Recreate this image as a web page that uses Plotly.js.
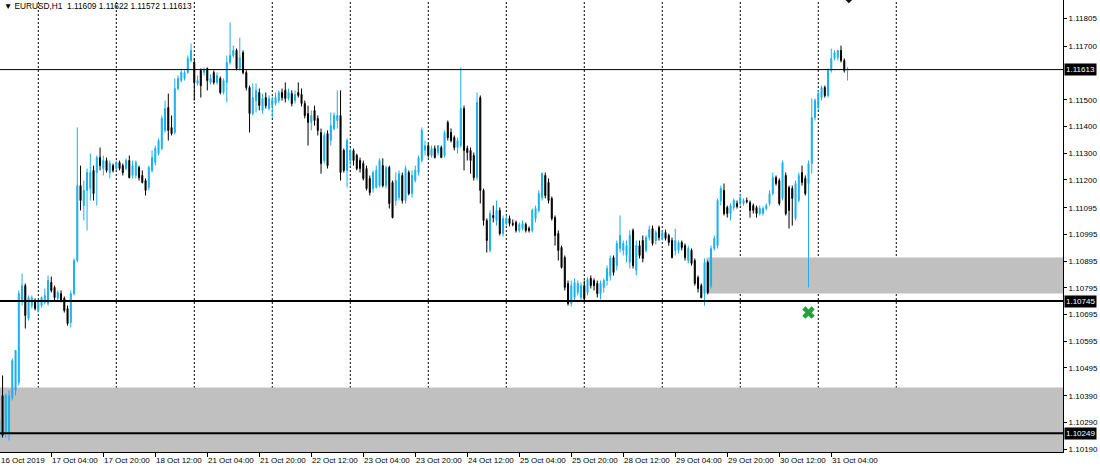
<!DOCTYPE html>
<html><head><meta charset="utf-8">
<script src="https://cdn.plot.ly/plotly-3.0.1.min.js"></script>
<style>html,body{margin:0;padding:0;background:#fff}#chart{width:1100px;height:467px}</style>
</head><body><div id="chart"></div>
<script>
// EURUSD H1 candles (index 0 = 16 Oct 2019 12:00)
const open = [
1.10233,1.10391,1.10248,1.10252,1.10383,1.10410,1.10440,1.10747,1.10803,1.10680,
1.10728,1.10747,1.10710,1.10728,1.10740,1.10736,1.10815,1.10796,1.10755,1.10773,
1.10755,1.10717,1.10665,1.10773,1.10897,1.11178,1.11103,1.11160,1.11167,1.11235,
1.11227,1.11283,1.11242,1.11272,1.11227,1.11253,1.11242,1.11265,1.11253,1.11242,
1.11272,1.11216,1.11216,1.11246,1.11216,1.11197,1.11171,1.11235,1.11265,1.11298,
1.11317,1.11385,1.11471,1.11396,1.11377,1.11542,1.11572,1.11580,1.11602,1.11647,
1.11640,1.11561,1.11610,1.11602,1.11617,1.11565,1.11602,1.11565,1.11580,1.11527,
1.11565,1.11640,1.11666,1.11685,1.11617,1.11677,1.11602,1.11546,1.11448,1.11497,
1.11527,1.11460,1.11508,1.11467,1.11478,1.11486,1.11497,1.11527,1.11535,1.11505,
1.11523,1.11497,1.11527,1.11520,1.11486,1.11448,1.11415,1.11460,1.11430,1.11377,
1.11272,1.11373,1.11347,1.11392,1.11422,1.11441,1.11310,1.11235,1.11272,1.11310,
1.11291,1.11272,1.11261,1.11242,1.11205,1.11167,1.11171,1.11178,1.11253,1.11178,
1.11246,1.11190,1.11122,1.11133,1.11216,1.11122,1.11227,1.11148,1.11197,1.11227,
1.11272,1.11310,1.11328,1.11291,1.11317,1.11302,1.11321,1.11291,1.11415,1.11377,
1.11358,1.11321,1.11328,1.11467,1.11317,1.11310,1.11291,1.11208,1.11508,1.11160,
1.11047,1.10935,1.11066,1.11047,1.11085,1.10998,1.11036,1.11055,1.11036,1.11040,
1.11010,1.11017,1.11032,1.11017,1.11010,1.11055,1.11085,1.11133,1.11216,1.11190,
1.11130,1.11058,1.10998,1.10946,1.10908,1.10811,1.10736,1.10758,1.10777,1.10758,
1.10803,1.10777,1.10830,1.10822,1.10811,1.10773,1.10796,1.10822,1.10841,1.10908,
1.10878,1.10942,1.10935,1.10916,1.10890,1.11010,1.10860,1.10953,1.10972,1.10935,
1.10983,1.11017,1.10972,1.11021,1.10980,1.11002,1.10991,1.10972,1.10935,1.10935,
1.10965,1.10953,1.10897,1.10935,1.10897,1.10833,1.10803,1.10773,1.10890,1.10803,
1.10942,1.10953,1.11122,1.11160,1.11096,1.11073,1.11096,1.11111,1.11111,1.11111,
1.11122,1.11115,1.11103,1.11096,1.11073,1.11073,1.11092,1.11111,1.11148,1.11208,
1.11197,1.11130,1.11216,1.11171,1.11167,1.11055,1.11122,1.11227,1.11205,1.11186,
1.11261,1.11433,1.11471,1.11508,1.11546,1.11516,1.11610,1.11655,1.11658,1.11685,
1.11647,1.11609];
const high = [
1.10316,1.10466,1.10398,1.10410,1.10530,1.10560,1.10785,1.10848,1.10811,1.10766,
1.10766,1.10755,1.10747,1.10762,1.10792,1.10841,1.10837,1.10803,1.10785,1.10785,
1.10762,1.10728,1.10785,1.10905,1.11396,1.11253,1.11197,1.11242,1.11298,1.11253,
1.11291,1.11321,1.11291,1.11283,1.11272,1.11261,1.11272,1.11272,1.11261,1.11280,
1.11291,1.11272,1.11272,1.11253,1.11235,1.11205,1.11253,1.11310,1.11328,1.11355,
1.11441,1.11497,1.11523,1.11441,1.11580,1.11591,1.11617,1.11610,1.11666,1.11711,
1.11655,1.11591,1.11617,1.11621,1.11621,1.11595,1.11610,1.11602,1.11587,1.11580,
1.11666,1.11790,1.11703,1.11692,1.11733,1.11685,1.11610,1.11553,1.11561,1.11561,
1.11542,1.11523,1.11527,1.11516,1.11512,1.11527,1.11535,1.11542,1.11565,1.11542,
1.11535,1.11535,1.11565,1.11542,1.11497,1.11478,1.11460,1.11478,1.11441,1.11392,
1.11377,1.11385,1.11452,1.11452,1.11535,1.11535,1.11317,1.11355,1.11317,1.11317,
1.11298,1.11283,1.11272,1.11253,1.11216,1.11235,1.11253,1.11280,1.11280,1.11253,
1.11253,1.11197,1.11227,1.11235,1.11227,1.11253,1.11235,1.11235,1.11253,1.11291,
1.11396,1.11347,1.11336,1.11328,1.11328,1.11328,1.11328,1.11385,1.11422,1.11392,
1.11366,1.11358,1.11621,1.11478,1.11328,1.11321,1.11302,1.11527,1.11516,1.11167,
1.11055,1.11085,1.11103,1.11122,1.11096,1.11066,1.11066,1.11066,1.11051,1.11047,
1.11040,1.11047,1.11040,1.11025,1.11092,1.11103,1.11160,1.11227,1.11227,1.11205,
1.11137,1.11066,1.11010,1.10953,1.10916,1.10822,1.10822,1.10830,1.10822,1.10815,
1.10822,1.10833,1.10841,1.10830,1.10822,1.10822,1.10830,1.10878,1.10916,1.10916,
1.10972,1.11066,1.10972,1.10972,1.11010,1.11017,1.10972,1.10972,1.10991,1.10991,
1.11028,1.11028,1.11010,1.11028,1.11010,1.11013,1.10998,1.10983,1.11017,1.10972,
1.10972,1.10961,1.10953,1.10942,1.10905,1.10841,1.10811,1.10905,1.10897,1.10953,
1.10991,1.11130,1.11178,1.11186,1.11103,1.11111,1.11130,1.11122,1.11148,1.11130,
1.11133,1.11122,1.11111,1.11103,1.11103,1.11100,1.11111,1.11160,1.11227,1.11216,
1.11205,1.11272,1.11227,1.11178,1.11178,1.11197,1.11227,1.11253,1.11216,1.11272,
1.11505,1.11505,1.11535,1.11553,1.11553,1.11617,1.11692,1.11685,1.11685,1.11703,
1.11655,1.11622];
const low = [
1.10222,1.10233,1.10233,1.10222,1.10372,1.10391,1.10428,1.10728,1.10642,1.10672,
1.10717,1.10710,1.10702,1.10721,1.10732,1.10728,1.10777,1.10747,1.10747,1.10740,
1.10702,1.10653,1.10646,1.10766,1.10890,1.11085,1.11047,1.11010,1.11122,1.11122,
1.11103,1.11235,1.11216,1.11227,1.11205,1.11227,1.11235,1.11235,1.11216,1.11235,
1.11205,1.11205,1.11205,1.11197,1.11186,1.11141,1.11160,1.11227,1.11253,1.11291,
1.11310,1.11377,1.11347,1.11366,1.11370,1.11535,1.11565,1.11572,1.11598,1.11640,
1.11497,1.11553,1.11508,1.11591,1.11535,1.11557,1.11557,1.11557,1.11520,1.11520,
1.11490,1.11632,1.11658,1.11610,1.11610,1.11595,1.11535,1.11377,1.11441,1.11452,
1.11460,1.11448,1.11467,1.11460,1.11433,1.11478,1.11486,1.11497,1.11490,1.11497,
1.11475,1.11486,1.11508,1.11475,1.11430,1.11328,1.11385,1.11403,1.11366,1.11223,
1.11261,1.11242,1.11328,1.11385,1.11392,1.11197,1.11227,1.11171,1.11253,1.11253,
1.11235,1.11227,1.11197,1.11160,1.11141,1.11152,1.11167,1.11171,1.11171,1.11167,
1.11092,1.11055,1.11103,1.11122,1.11111,1.11111,1.11141,1.11133,1.11190,1.11216,
1.11265,1.11291,1.11283,1.11283,1.11280,1.11291,1.11283,1.11283,1.11347,1.11340,
1.11310,1.11298,1.11321,1.11235,1.11272,1.11223,1.11197,1.11197,1.11111,1.11028,
1.10927,1.10927,1.11040,1.11028,1.10991,1.10987,1.11028,1.11025,1.11025,1.11002,
1.11002,1.11010,1.11002,1.11002,1.11002,1.11040,1.11077,1.11122,1.11130,1.11111,
1.11047,1.10953,1.10897,1.10867,1.10785,1.10728,1.10725,1.10747,1.10766,1.10747,
1.10747,1.10766,1.10792,1.10785,1.10758,1.10751,1.10777,1.10803,1.10822,1.10841,
1.10860,1.10927,1.10916,1.10890,1.10867,1.10867,1.10841,1.10905,1.10890,1.10927,
1.10972,1.10953,1.10957,1.10972,1.10972,1.10972,1.10953,1.10905,1.10916,1.10923,
1.10935,1.10897,1.10886,1.10878,1.10803,1.10777,1.10755,1.10728,1.10770,1.10792,
1.10935,1.10942,1.11103,1.11066,1.11058,1.11047,1.11085,1.11092,1.11103,1.11103,
1.11111,1.11058,1.11073,1.11058,1.11066,1.11066,1.11085,1.11103,1.11141,1.11178,
1.11103,1.11122,1.11066,1.11017,1.11028,1.11047,1.11115,1.11178,1.11141,1.10796,
1.11223,1.11422,1.11460,1.11497,1.11508,1.11508,1.11602,1.11647,1.11647,1.11640,
1.11602,1.11572];
const close = [
1.10297,1.10241,1.10391,1.10391,1.10522,1.10560,1.10773,1.10803,1.10691,1.10758,
1.10758,1.10717,1.10740,1.10758,1.10766,1.10822,1.10785,1.10758,1.10777,1.10747,
1.10710,1.10661,1.10773,1.10897,1.11178,1.11122,1.11160,1.11227,1.11227,1.11148,
1.11283,1.11253,1.11272,1.11235,1.11261,1.11235,1.11265,1.11242,1.11227,1.11272,
1.11208,1.11253,1.11265,1.11208,1.11190,1.11160,1.11246,1.11283,1.11317,1.11347,
1.11430,1.11467,1.11385,1.11373,1.11542,1.11580,1.11602,1.11602,1.11655,1.11685,
1.11565,1.11572,1.11553,1.11613,1.11572,1.11580,1.11565,1.11591,1.11527,1.11572,
1.11640,1.11666,1.11685,1.11617,1.11658,1.11602,1.11546,1.11448,1.11508,1.11535,
1.11478,1.11505,1.11478,1.11505,1.11497,1.11508,1.11527,1.11508,1.11505,1.11527,
1.11486,1.11520,1.11516,1.11486,1.11441,1.11415,1.11441,1.11422,1.11385,1.11261,
1.11366,1.11253,1.11403,1.11441,1.11441,1.11227,1.11235,1.11347,1.11310,1.11272,
1.11242,1.11242,1.11205,1.11167,1.11152,1.11227,1.11235,1.11272,1.11178,1.11246,
1.11111,1.11058,1.11197,1.11223,1.11122,1.11242,1.11148,1.11216,1.11235,1.11283,
1.11385,1.11328,1.11291,1.11317,1.11283,1.11328,1.11283,1.11377,1.11358,1.11347,
1.11321,1.11347,1.11467,1.11310,1.11302,1.11272,1.11208,1.11490,1.11160,1.11047,
1.10972,1.11073,1.11058,1.11085,1.10998,1.11055,1.11055,1.11036,1.11032,1.11010,
1.11032,1.11036,1.11010,1.11010,1.11085,1.11092,1.11148,1.11223,1.11141,1.11122,
1.11055,1.10991,1.10935,1.10871,1.10796,1.10736,1.10803,1.10815,1.10811,1.10803,
1.10755,1.10826,1.10803,1.10803,1.10773,1.10811,1.10822,1.10867,1.10905,1.10852,
1.10961,1.10991,1.10961,1.10953,1.10991,1.10878,1.10953,1.10916,1.10905,1.10983,
1.11013,1.10961,1.11002,1.10983,1.11002,1.10980,1.10965,1.10908,1.10972,1.10965,
1.10946,1.10908,1.10942,1.10886,1.10811,1.10792,1.10758,1.10890,1.10777,1.10942,
1.10980,1.11122,1.11167,1.11073,1.11073,1.11103,1.11122,1.11100,1.11133,1.11122,
1.11118,1.11085,1.11085,1.11073,1.11092,1.11092,1.11103,1.11148,1.11208,1.11186,
1.11111,1.11265,1.11073,1.11085,1.11130,1.11186,1.11216,1.11190,1.11148,1.11261,
1.11433,1.11497,1.11523,1.11546,1.11516,1.11610,1.11655,1.11677,1.11685,1.11647,
1.11610,1.11613];

const dayStartBars = [12,36,60,84,108,132,156,180,204,228,252,276];
const tickBars = [0,16,32,48,64,80,96,112,128,144,160,176,192,208,224,240,256];
const tickLabels = ["16 Oct 2019","17 Oct 04:00","17 Oct 20:00","18 Oct 12:00","21 Oct 04:00","21 Oct 20:00","22 Oct 12:00","23 Oct 04:00","23 Oct 20:00","24 Oct 12:00","25 Oct 04:00","25 Oct 20:00","28 Oct 12:00","29 Oct 04:00","29 Oct 20:00","30 Oct 12:00","31 Oct 04:00"];
const priceTicks = [1.11805,1.11700,1.11500,1.11400,1.11300,1.11200,1.11095,1.10995,1.10895,1.10795,1.10695,1.10595,1.10495,1.10390,1.10290,1.10190];
const priceTickText = ["1.11805","1.11700","1.11500","1.11400","1.11300","1.11200","1.11095","1.10995","1.10895","1.10795","1.10695","1.10595","1.10495","1.10390","1.10290","1.10190"];
const levelPrices = [1.11613, 1.10745, 1.10249];
const levelLabels = ["1.11613","1.10745","1.10249"];
const zoneStartBar = [217.6, -5];
const zoneTop = [1.10908, 1.10421];
const zoneBottom = [1.10773, 1.10150];
const signalBar = [249];
const signalPrice = [1.10702];
const arrowBar = [261.4];
const arrowPrice = [1.11886];
const header = "EURUSD,H1\u00a0\u00a01.11609 1.11622 1.11572 1.11613";

const xRange = [0.215, 327.3];
const yRange = [1.10179, 1.11874];
const FONT = "Liberation Sans, Arial, DejaVu Sans, sans-serif";
const barIndex = open.map((_, k) => k);

const traces = [
  {type:'candlestick', x:barIndex, open:open, high:high, low:low, close:close,
   increasing:{line:{color:'#1AB0EE', width:1}, fillcolor:'#1AB0EE'},
   decreasing:{line:{color:'#000000', width:1}, fillcolor:'#000000'},
   whiskerwidth:0, hoverinfo:'skip'},
  {type:'scatter', mode:'markers', x:signalBar, y:signalPrice,
   marker:{symbol:'x', size:11, color:'#22A23E', line:{width:0}}, hoverinfo:'skip'},
  {type:'scatter', mode:'markers', x:arrowBar, y:arrowPrice,
   marker:{symbol:'diamond', size:10, color:'#111'}, hoverinfo:'skip'}
];

const shapes = [];
zoneStartBar.forEach((s, k) => shapes.push({type:'rect', xref:'x', yref:'y', x0:s, x1:xRange[1]+5,
  y0:zoneBottom[k], y1:zoneTop[k], fillcolor:'#C0C0C0', line:{width:0}, layer:'below'}));
dayStartBars.forEach(b => shapes.push({type:'line', xref:'x', yref:'paper', x0:b, x1:b, y0:0, y1:1,
  line:{color:'#000', width:1, dash:'2px,2px'}, layer:'below'}));
const levelW = [1, 2, 2];
levelPrices.forEach((p, k) => shapes.push({type:'line', xref:'paper', yref:'y', x0:0, x1:1, y0:p, y1:p,
  line:{color:'#000', width:levelW[k]}, layer:'above'}));

const annotations = [];
tickBars.forEach((b, k) => annotations.push({xref:'x', yref:'paper', x:Math.max(b, xRange[0]+0.1), y:0,
  xanchor:'left', yanchor:'top', yshift:-2, xshift:-1, showarrow:false, text:tickLabels[k],
  font:{family:FONT, size:8, color:'#000'}}));
levelPrices.forEach((p, k) => annotations.push({xref:'paper', yref:'y', x:1, y:p, xanchor:'left', yanchor:'middle',
  xshift:1, showarrow:false, text:levelLabels[k], bgcolor:'#000', borderpad:1,
  font:{family:FONT, size:8, color:'#fff'}}));
annotations.push({xref:'paper', yref:'paper', x:0, y:1, xanchor:'left', yanchor:'top', xshift:2, yshift:1,
  showarrow:false, text:'\u25BC\u00a0'+header, font:{family:FONT, size:8.3, color:'#000'}});

const layout = {
  width:1100, height:467,
  margin:{l:0, r:37, t:0, b:15, pad:0},
  paper_bgcolor:'#fff', plot_bgcolor:'#fff',
  showlegend:false, boxgap:0.55,
  xaxis:{range:xRange, showgrid:false, zeroline:false, showline:true, linecolor:'#000', linewidth:1,
    ticks:'outside', ticklen:4, tickcolor:'#000', tickwidth:1, tickvals:tickBars, showticklabels:false,
    rangeslider:{visible:false}, fixedrange:true},
  yaxis:{side:'right', range:yRange, showgrid:false, zeroline:false, showline:true, linecolor:'#000', linewidth:1,
    ticks:'outside', ticklen:3, tickcolor:'#000', tickvals:priceTicks, ticktext:priceTickText,
    tickfont:{family:FONT, size:8, color:'#000'}, fixedrange:true},
  shapes:shapes, annotations:annotations
};
Plotly.newPlot('chart', traces, layout, {staticPlot:true, displayModeBar:false});
</script>
</body></html>
